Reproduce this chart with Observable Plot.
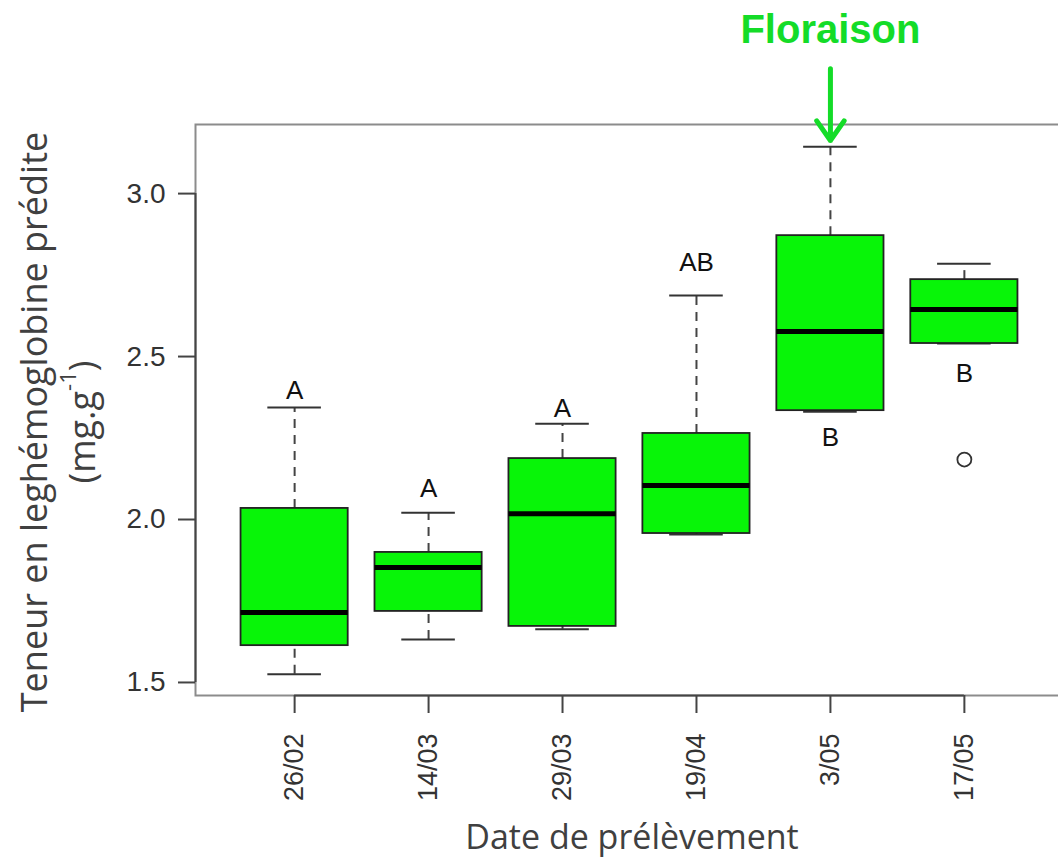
<!DOCTYPE html>
<html>
<head>
<meta charset="utf-8">
<script src="https://cdn.jsdelivr.net/npm/d3@7"></script>
<script src="https://cdn.jsdelivr.net/npm/@observablehq/plot@0.6"></script>
<style>
  html, body { margin: 0; padding: 0; background: #fff; overflow: hidden; width: 1058px; height: 860px; }
  #chart { position: relative; width: 1058px; height: 860px; overflow: hidden; }
  #chart svg { max-width: none !important; display: block; }
</style>
</head>
<body>
<div id="chart"></div>
<script>
// ---- Data ----
const dates      = ["26/02", "14/03", "29/03", "19/04", "3/05", "17/05"];
const whiskerLow = [1.525, 1.632, 1.663, 1.954, 2.331, 2.540];
const q1         = [1.613, 1.718, 1.672, 1.957, 2.334, 2.540];
const median     = [1.715, 1.853, 2.018, 2.104, 2.577, 2.644];
const q3         = [2.034, 1.899, 2.187, 2.264, 2.871, 2.736];
const whiskerHigh= [2.344, 2.021, 2.294, 2.687, 3.144, 2.785];
const letters    = ["A", "A", "A", "AB", "B", "B"];
const letterAt   = [2.396, 2.095, 2.340, 2.788, 2.252, 2.448];
const outlierDate  = ["17/05"];
const outlierValue = [2.184];
const yTicks = [1.5, 2.0, 2.5, 3.0];
const floraisonDate = "3/05";
const floraisonArrow = [3.383, 3.163];

const boxes = dates.map((d, i) => ({
  i: i + 1, date: d, lo: whiskerLow[i], q1: q1[i], med: median[i],
  q3: q3[i], hi: whiskerHigh[i], letter: letters[i], letterAt: letterAt[i]
}));
const outliers = outlierDate.map((d, k) => ({ i: dates.indexOf(d) + 1, v: outlierValue[k] }));
const flo = [{ i: dates.indexOf(floraisonDate) + 1, y1: floraisonArrow[0], y2: floraisonArrow[1], t: "Floraison" }];

const green = "#08f508";
const annotGreen = "#14dc28";
const xDom = [0.26, 6.74];
const yDom = [1.46, 3.212];

const chart = Plot.plot({
  width: 1070,
  height: 860,
  marginLeft: 195,
  marginRight: 7,
  marginTop: 124,
  marginBottom: 165,
  style: { fontFamily: "'Liberation Sans', Arial, sans-serif", color: "#333", background: "#fff" },
  x: { domain: xDom },
  y: { domain: yDom },
  marks: [
    Plot.frame({ stroke: "#8c8c8c", strokeWidth: 2 }),
    // axis lines spanning the ticks (darker, as in R)
    Plot.ruleX([xDom[0]], { y1: yTicks[0], y2: yTicks[yTicks.length - 1], stroke: "#444", strokeWidth: 2 }),
    Plot.ruleY([yDom[0]], { x1: 1, x2: dates.length, stroke: "#444", strokeWidth: 2 }),
    // whiskers
    Plot.ruleX(boxes, { x: "i", y1: "q3", y2: "hi", stroke: "#444", strokeWidth: 2, strokeDasharray: "9,7" }),
    Plot.ruleX(boxes, { x: "i", y1: "lo", y2: "q1", stroke: "#444", strokeWidth: 2, strokeDasharray: "9,7" }),
    Plot.ruleY(boxes, { y: "hi", x1: d => d.i - 0.2, x2: d => d.i + 0.2, stroke: "#333", strokeWidth: 2 }),
    Plot.ruleY(boxes, { y: "lo", x1: d => d.i - 0.2, x2: d => d.i + 0.2, stroke: "#333", strokeWidth: 2 }),
    // boxes
    Plot.rect(boxes, { x1: d => d.i - 0.4, x2: d => d.i + 0.4, y1: "q1", y2: "q3", fill: green, stroke: "#222", strokeWidth: 1.8 }),
    Plot.ruleY(boxes, { y: "med", x1: d => d.i - 0.4, x2: d => d.i + 0.4, stroke: "#000", strokeWidth: 5 }),
    // outliers
    Plot.dot(outliers, { x: "i", y: "v", r: 7, stroke: "#333", strokeWidth: 1.8, fill: "#fff" }),
    // group letters
    Plot.text(boxes, { x: "i", y: "letterAt", text: "letter", fontSize: 26, fill: "#111", fontFamily: "'Liberation Sans', Arial, sans-serif" }),
    // axes
    Plot.axisY({ ticks: yTicks, tickFormat: d => d.toFixed(1), tickSize: 17, tickPadding: 13, fontSize: 28, label: null, stroke: "#444", strokeWidth: 2, fill: "#333" }),
    Plot.axisX({ ticks: dates.map((d, i) => i + 1), tickFormat: i => dates[i - 1], tickSize: 18, tickPadding: 20, tickRotate: -90, fontSize: 28, label: null, stroke: "#444", strokeWidth: 2, fill: "#333" }),
    // Floraison annotation
    Plot.arrow(flo, { x1: "i", x2: "i", y1: "y1", y2: "y2", stroke: annotGreen, strokeWidth: 5, headLength: 22, headAngle: 70 }),
    Plot.text(flo, { x: "i", text: "t", frameAnchor: "top", lineAnchor: "middle", dy: -94, fontSize: 40, fontWeight: "bold", fill: annotGreen, fontFamily: "'Liberation Sans', Arial, sans-serif" })
  ]
});

document.getElementById("chart").appendChild(chart);

const svg = d3.select(chart);
// enforce tick label sizes
svg.selectAll('g[aria-label="y-axis tick label"] text, g[aria-label="y-axis tick label"]').style("font-size", "28px");
svg.selectAll('g[aria-label="x-axis tick label"] text, g[aria-label="x-axis tick label"]').style("font-size", "27px");

// axis titles
const titleFont = "'Open Sans', 'Noto Sans', sans-serif";
svg.append("text")
  .attr("transform", "translate(37,422) rotate(-90)")
  .attr("text-anchor", "middle").attr("dominant-baseline", "middle")
  .attr("font-family", titleFont).attr("font-size", 36).attr("fill", "#404040")
  .text("Teneur en leghémoglobine prédite");
const unit = svg.append("text")
  .attr("transform", "translate(85,422) rotate(-90)")
  .attr("text-anchor", "middle").attr("dominant-baseline", "middle")
  .attr("font-family", titleFont).attr("font-size", 36).attr("fill", "#404040");
unit.append("tspan").text("(mg.g");
unit.append("tspan").attr("baseline-shift", "super").attr("font-size", 22).text("-1");
unit.append("tspan").text(")");
svg.append("text")
  .attr("x", 632).attr("y", 840)
  .attr("text-anchor", "middle").attr("dominant-baseline", "middle")
  .attr("font-family", titleFont).attr("font-size", 34).attr("fill", "#404040")
  .text("Date de prélèvement");
</script>
</body>
</html>
